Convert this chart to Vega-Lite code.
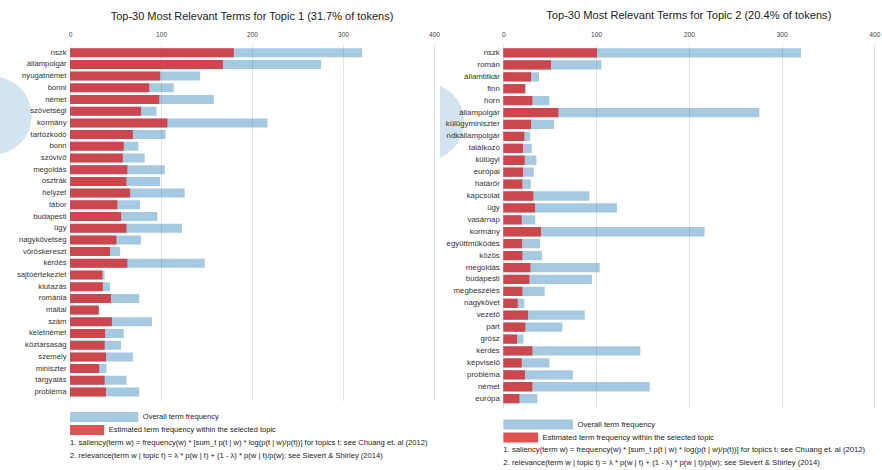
{
  "$schema": "https://vega.github.io/schema/vega-lite/v6.json",
  "padding": {"left": 0, "top": 10, "right": 0, "bottom": 0},
  "background": "white",
  "config": {"font": "Liberation Sans", "view": {"stroke": null}},
  "datasets": {
    "topic1": [
      {"term": "nszk", "total": 321, "est": 180},
      {"term": "állampolgár", "total": 276, "est": 168},
      {"term": "nyugatnémet", "total": 143, "est": 99},
      {"term": "bonni", "total": 114, "est": 87},
      {"term": "német", "total": 158, "est": 98},
      {"term": "szövetségi", "total": 95, "est": 78},
      {"term": "kormány", "total": 217, "est": 107},
      {"term": "tartózkodó", "total": 105, "est": 69},
      {"term": "bonn", "total": 75, "est": 59},
      {"term": "szóvivő", "total": 82, "est": 58},
      {"term": "megoldás", "total": 104, "est": 63},
      {"term": "osztrák", "total": 99, "est": 62},
      {"term": "helyzet", "total": 126, "est": 66},
      {"term": "tábor", "total": 77, "est": 52},
      {"term": "budapesti", "total": 96, "est": 56},
      {"term": "ügy", "total": 123, "est": 62},
      {"term": "nagykövetség", "total": 78, "est": 51},
      {"term": "vöröskereszt", "total": 55, "est": 44},
      {"term": "kérdés", "total": 148, "est": 63},
      {"term": "sajtóértekezlet", "total": 38, "est": 35.5},
      {"term": "kiutazás", "total": 44, "est": 36},
      {"term": "románia", "total": 76, "est": 45},
      {"term": "máltai", "total": 32, "est": 31.5},
      {"term": "szám", "total": 90, "est": 46},
      {"term": "keletnémet", "total": 59, "est": 38.5},
      {"term": "köztársaság", "total": 56, "est": 38},
      {"term": "személy", "total": 69, "est": 39.5},
      {"term": "miniszter", "total": 40, "est": 32},
      {"term": "tárgyalás", "total": 62, "est": 38},
      {"term": "probléma", "total": 76, "est": 39.5}
    ],
    "topic2": [
      {"term": "nszk", "total": 321, "est": 101},
      {"term": "román", "total": 105.7, "est": 51.4},
      {"term": "államtitkár", "total": 38.5, "est": 29.9},
      {"term": "finn", "total": 23.9, "est": 23.5},
      {"term": "horn", "total": 49.6, "est": 31.3},
      {"term": "állampolgár", "total": 276, "est": 59.3},
      {"term": "külügyminiszter", "total": 54.7, "est": 29.9},
      {"term": "ndkállampolgár", "total": 28.8, "est": 22.6},
      {"term": "találkozó", "total": 30.6, "est": 21.2},
      {"term": "külügyi", "total": 35.6, "est": 23},
      {"term": "európai", "total": 32.8, "est": 21.2},
      {"term": "határőr", "total": 29.5, "est": 20.5},
      {"term": "kapcsolat", "total": 92.7, "est": 32.3},
      {"term": "ügy", "total": 122.6, "est": 34.2},
      {"term": "vasárnap", "total": 34.5, "est": 19.8},
      {"term": "kormány", "total": 217, "est": 40.6},
      {"term": "együttműködés", "total": 39.6, "est": 20.2},
      {"term": "közös", "total": 41.7, "est": 20.5},
      {"term": "megoldás", "total": 103.9, "est": 29.1},
      {"term": "budapesti", "total": 95.6, "est": 28},
      {"term": "megbeszélés", "total": 44.6, "est": 20.5},
      {"term": "nagykövet", "total": 22.6, "est": 15.5},
      {"term": "vezető", "total": 87.8, "est": 26.6},
      {"term": "párt", "total": 63.6, "est": 23.7},
      {"term": "grósz", "total": 21.6, "est": 14.8},
      {"term": "kérdés", "total": 147.7, "est": 31.3},
      {"term": "képviselő", "total": 49.6, "est": 19.8},
      {"term": "probléma", "total": 75, "est": 23.3},
      {"term": "német", "total": 157.8, "est": 31.3},
      {"term": "európa", "total": 36.6, "est": 17.3}
    ],
    "legend": [
      {"key": "overall", "label": "Overall term frequency"},
      {"key": "estimated", "label": "Estimated term frequency within the selected topic"},
      {"key": "note1", "label": "1. saliency(term w) = frequency(w) * [sum_t p(t | w) * log(p(t | w)/p(t))] for topics t; see Chuang et. al (2012)"},
      {"key": "note2", "label": "2. relevance(term w | topic t) = λ * p(w | t) + (1 - λ) * p(w | t)/p(w); see Sievert & Shirley (2014)"}
    ]
  },
  "spacing": 0,
  "hconcat": [
    {
      "spacing": 11,
      "vconcat": [
        {
          "width": 440,
          "height": 356.7,
          "title": {"text": "Top-30 Most Relevant Terms for Topic 1 (31.7% of tokens)", "fontSize": 11, "fontWeight": "normal", "color": "#222", "anchor": "middle", "dx": 32, "offset": 9.5},
          "data": {"name": "topic1"},
          "layer": [
            {
              "transform": [{"filter": "datum.term === 'szövetségi'"}],
              "mark": {"type": "point", "filled": true, "size": 6100, "color": "#1f77b4", "opacity": 0.2, "clip": true},
              "encoding": {
                "x": {"datum": -85, "type": "quantitative", "title": null},
                "y": {"field": "term", "type": "nominal", "bandPosition": 1}
              }
            },
            {
              "mark": {"type": "bar", "color": "#1f77b4", "opacity": 0.4},
              "encoding": {
                "y": {"field": "term", "type": "nominal", "sort": null, "title": null,
                  "scale": {"domain": ["nszk","állampolgár","nyugatnémet","bonni","német","szövetségi","kormány","tartózkodó","bonn","szóvivő","megoldás","osztrák","helyzet","tábor","budapesti","ügy","nagykövetség","vöröskereszt","kérdés","sajtóértekezlet","kiutazás","románia","máltai","szám","keletnémet","köztársaság","személy","miniszter","tárgyalás","probléma"], "paddingInner": 0.23, "paddingOuter": 0.36},
                  "axis": {"orient": "left", "offset": -70, "domain": false, "ticks": false, "labelPadding": 4, "labelFontSize": 7.7, "labelColor": "#333", "zindex": 1}},
                "x": {"field": "total", "type": "quantitative", "title": null,
                  "scale": {"domain": [-77, 406.6], "nice": false, "zero": false},
                  "axis": {"orient": "top", "values": [0, 100, 200, 300, 400], "domain": false, "ticks": false, "labelPadding": 7, "labelFontSize": 6.6, "labelColor": "#444", "gridColor": "#e3e3e3", "grid": true}},
                "x2": {"datum": 0}
              }
            },
            {
              "mark": {"type": "bar", "color": "#d62728", "opacity": 0.8},
              "encoding": {
                "y": {"field": "term", "type": "nominal", "sort": null, "title": null},
                "x": {"field": "est", "type": "quantitative", "title": null},
                "x2": {"datum": 0}
              }
            }
          ]
        },
        {
          "width": 440,
          "height": 49,
          "data": {"name": "legend"},
          "encoding": {
            "y": {"field": "key", "type": "nominal", "sort": null, "axis": null,
              "scale": {"domain": ["overall", "estimated", "note1", "note2"], "paddingInner": 0.23, "paddingOuter": 0}}
          },
          "layer": [
            {
              "transform": [{"filter": "datum.key === 'overall'"}],
              "mark": {"type": "bar", "color": "#1f77b4", "opacity": 0.4},
              "encoding": {"x": {"datum": 0, "type": "quantitative", "scale": {"domain": [-77, 406.6], "nice": false, "zero": false}, "axis": null}, "x2": {"datum": 75}}
            },
            {
              "transform": [{"filter": "datum.key === 'estimated'"}],
              "mark": {"type": "bar", "color": "#d62728", "opacity": 0.8},
              "encoding": {"x": {"datum": 0, "type": "quantitative"}, "x2": {"datum": 37.5}}
            },
            {
              "transform": [{"filter": "datum.key === 'overall'"}],
              "mark": {"type": "text", "align": "left", "dx": 4.5, "fontSize": 7.5, "color": "#222"},
              "encoding": {"x": {"datum": 75, "type": "quantitative"}, "text": {"field": "label"}}
            },
            {
              "transform": [{"filter": "datum.key === 'estimated'"}],
              "mark": {"type": "text", "align": "left", "dx": 4.5, "fontSize": 7.5, "color": "#222"},
              "encoding": {"x": {"datum": 37.5, "type": "quantitative"}, "text": {"field": "label"}}
            },
            {
              "transform": [{"filter": "datum.key === 'note1' || datum.key === 'note2'"}],
              "mark": {"type": "text", "align": "left", "fontSize": 7.6, "color": "#222"},
              "encoding": {"x": {"datum": 0, "type": "quantitative"}, "text": {"field": "label"}}
            }
          ]
        }
      ]
    },
    {
      "spacing": 11.5,
      "vconcat": [
        {
          "width": 442,
          "height": 363.6,
          "title": {"text": "Top-30 Most Relevant Terms for Topic 2 (20.4% of tokens)", "fontSize": 11.1, "fontWeight": "normal", "color": "#222", "anchor": "middle", "dx": 27.8, "offset": 9.5},
          "data": {"name": "topic2"},
          "layer": [
            {
              "transform": [{"filter": "datum.term === 'külügyminiszter'"}],
              "mark": {"type": "point", "filled": true, "size": 6000, "color": "#1f77b4", "opacity": 0.2, "clip": true},
              "encoding": {
                "x": {"datum": -84, "type": "quantitative", "title": null},
                "y": {"field": "term", "type": "nominal", "bandPosition": 0.2}
              }
            },
            {
              "mark": {"type": "bar", "color": "#1f77b4", "opacity": 0.4},
              "encoding": {
                "y": {"field": "term", "type": "nominal", "sort": null, "title": null,
                  "scale": {"domain": ["nszk","román","államtitkár","finn","horn","állampolgár","külügyminiszter","ndkállampolgár","találkozó","külügyi","európai","határőr","kapcsolat","ügy","vasárnap","kormány","együttműködés","közös","megoldás","budapesti","megbeszélés","nagykövet","vezető","párt","grósz","kérdés","képviselő","probléma","német","európa"], "paddingInner": 0.22, "paddingOuter": 0.36},
                  "axis": {"orient": "left", "offset": -63.3, "domain": false, "ticks": false, "labelPadding": 4, "labelFontSize": 7.85, "labelColor": "#333", "zindex": 1}},
                "x": {"field": "total", "type": "quantitative", "title": null,
                  "scale": {"domain": [-68.3, 408.3], "nice": false, "zero": false},
                  "axis": {"orient": "top", "values": [0, 100, 200, 300, 400], "domain": false, "ticks": false, "labelPadding": 7, "labelFontSize": 6.7, "labelColor": "#444", "gridColor": "#e3e3e3", "grid": true}},
                "x2": {"datum": 0}
              }
            },
            {
              "mark": {"type": "bar", "color": "#d62728", "opacity": 0.8},
              "encoding": {
                "y": {"field": "term", "type": "nominal", "sort": null, "title": null},
                "x": {"field": "est", "type": "quantitative", "title": null},
                "x2": {"datum": 0}
              }
            }
          ]
        },
        {
          "width": 442,
          "height": 49,
          "data": {"name": "legend"},
          "encoding": {
            "y": {"field": "key", "type": "nominal", "sort": null, "axis": null,
              "scale": {"domain": ["overall", "estimated", "note1", "note2"], "paddingInner": 0.23, "paddingOuter": 0}}
          },
          "layer": [
            {
              "transform": [{"filter": "datum.key === 'overall'"}],
              "mark": {"type": "bar", "color": "#1f77b4", "opacity": 0.4},
              "encoding": {"x": {"datum": 0, "type": "quantitative", "scale": {"domain": [-68.3, 408.3], "nice": false, "zero": false}, "axis": null}, "x2": {"datum": 75}}
            },
            {
              "transform": [{"filter": "datum.key === 'estimated'"}],
              "mark": {"type": "bar", "color": "#d62728", "opacity": 0.8},
              "encoding": {"x": {"datum": 0, "type": "quantitative"}, "x2": {"datum": 37.5}}
            },
            {
              "transform": [{"filter": "datum.key === 'overall'"}],
              "mark": {"type": "text", "align": "left", "dx": 4.5, "fontSize": 7.7, "color": "#222"},
              "encoding": {"x": {"datum": 75, "type": "quantitative"}, "text": {"field": "label"}}
            },
            {
              "transform": [{"filter": "datum.key === 'estimated'"}],
              "mark": {"type": "text", "align": "left", "dx": 4.5, "fontSize": 7.7, "color": "#222"},
              "encoding": {"x": {"datum": 37.5, "type": "quantitative"}, "text": {"field": "label"}}
            },
            {
              "transform": [{"filter": "datum.key === 'note1' || datum.key === 'note2'"}],
              "mark": {"type": "text", "align": "left", "fontSize": 7.7, "color": "#222"},
              "encoding": {"x": {"datum": 0, "type": "quantitative"}, "text": {"field": "label"}}
            }
          ]
        }
      ]
    }
  ]
}
